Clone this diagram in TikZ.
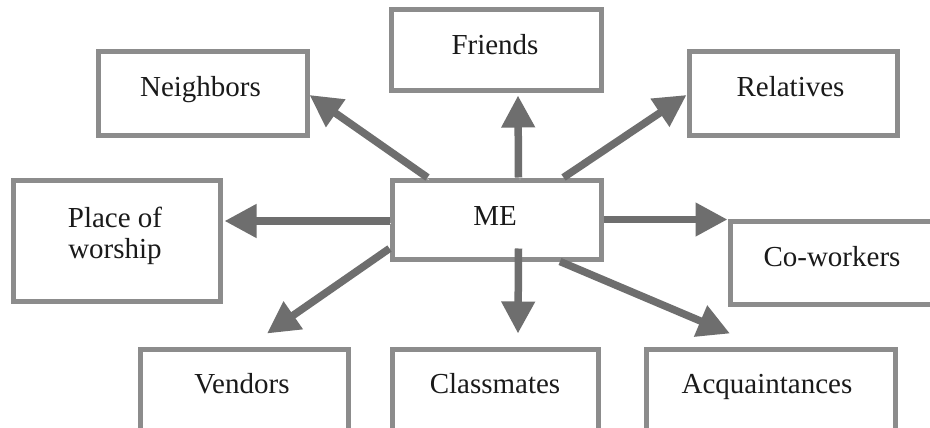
\documentclass[tikz,border=0pt]{standalone}
\usepackage{fontspec}
\setmainfont{Liberation Serif}
\usetikzlibrary{arrows.meta}
\definecolor{boxgray}{HTML}{8C8C8C}
\definecolor{arrgray}{HTML}{6E6E6E}
\definecolor{txtcol}{HTML}{1A1A1A}
\begin{document}
\begin{tikzpicture}[x=1pt,y=-1pt,
  box/.style={draw=boxgray, line width=5pt, rectangle, inner sep=0pt, fill=white},
  lbl/.style={font=\fontsize{29}{31}\selectfont, text=txtcol, inner sep=0pt, anchor=base, align=center},
  arr/.style={draw=arrgray, line width=7.5pt, -{Triangle[length=32pt,width=32pt]},
    preaction={draw=black!10, transform canvas={xshift=1.5pt,yshift=-2.5pt}}}
]
\useasboundingbox (0,0) rectangle (930,428);
\clip (0,0) rectangle (930,428);
\fill[white] (0,0) rectangle (930,428);

% boxes
\node[box, minimum width=210pt, minimum height=81pt] (friends) at (496,50.5) {};
\node[box, minimum width=209pt, minimum height=83pt] (neighbors) at (202.5,93.5) {};
\node[box, minimum width=208pt, minimum height=83pt] (relatives) at (793,93.5) {};
\node[box, minimum width=209pt, minimum height=79pt] (me) at (496.5,219.5) {};
\node[box, minimum width=207pt, minimum height=121pt] (worship) at (116.5,240.5) {};
\node[box, minimum width=208pt, minimum height=83pt] (coworkers) at (834,262.5) {};
\node[box, minimum width=208pt, minimum height=82pt] (vendors) at (244,390) {};
\node[box, minimum width=206pt, minimum height=82pt] (classmates) at (495,390) {};
\node[box, minimum width=249pt, minimum height=82pt] (acquaint) at (770.5,390) {};

% labels
\node[lbl] (friendsT) at (495,55) {Friends};
\node[lbl] (neighborsT) at (200.5,96.5) {Neighbors};
\node[lbl] (relativesT) at (790.5,96.5) {Relatives};
\node[lbl] (meT) at (495,225) {ME};
\node[lbl, anchor=center] (worshipT) at (115,236) {Place of\\worship};
\node[lbl] (coworkersT) at (832,266.5) {Co-workers};
\node[lbl] (vendorsT) at (242,393) {Vendors};
\node[lbl] (classmatesT) at (495,393) {Classmates};
\node[lbl] (acquaintT) at (767,393) {Acquaintances};

% arrows
\draw[arr] ([xshift=22pt]me.north) -- ([xshift=22pt,yshift=-2pt]friends.south);
\draw[arr] ([xshift=38pt]me.north west) -- ([yshift=-1.5pt]neighbors.east);
\draw[arr] ([xshift=-40pt]me.north east) -- ([yshift=-1.5pt]relatives.west);
\draw[arr] ([yshift=-1.5pt]me.west) -- ([yshift=-1.5pt,xshift=2pt]me.west -| worship.east);
\draw[arr] (me.east) -- (me.east -| coworkers.west);
\draw[arr] ([yshift=-29pt]me.west) -- ([xshift=23pt,yshift=13pt]vendors.north);
\draw[arr] ([xshift=22pt,yshift=13pt]me.south) -- ([xshift=23pt,yshift=13pt]classmates.north);
\draw[arr] ([xshift=-43.5pt]me.south east) -- ([xshift=-40.5pt,yshift=13pt]acquaint.north);
\end{tikzpicture}
\end{document}
